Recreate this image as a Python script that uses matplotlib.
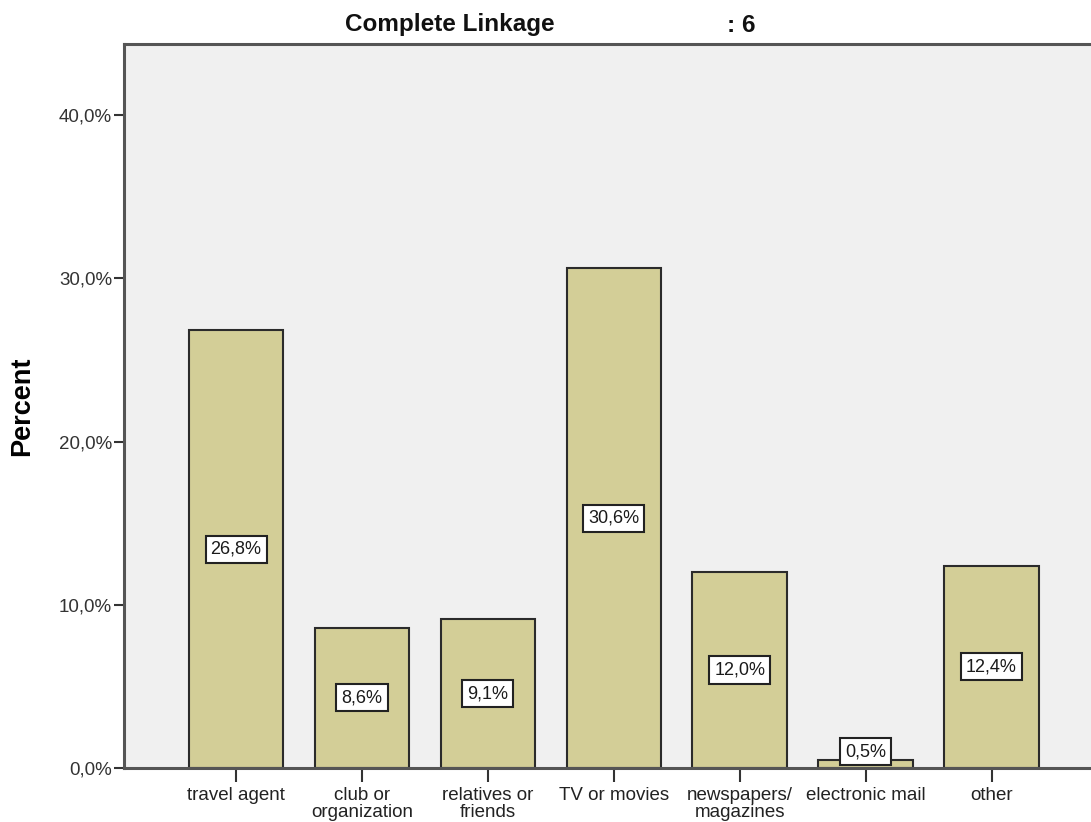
import matplotlib
matplotlib.use("Agg")
import matplotlib.pyplot as plt
from matplotlib.ticker import FuncFormatter

categories = ["travel agent", "club or\norganization", "relatives or\nfriends",
              "TV or movies", "newspapers/\nmagazines", "electronic mail", "other"]
percent = [26.8, 8.6, 9.1, 30.6, 12.0, 0.5, 12.4]
y_ticks = [0, 10, 20, 30, 40]

plt.rcParams['font.family'] = ['Liberation Sans', 'DejaVu Sans']

W, H = 1091, 822
fig = plt.figure(figsize=(W / 100, H / 100), dpi=100)
ax = fig.add_axes([124 / W, (H - 768) / H, 1 - 124 / W, (768 - 44) / H])
ax.set_facecolor("#f0f0f0")

x = list(range(len(categories)))
ax.bar(x, percent, width=0.75, color="#d3ce97", edgecolor="#2b2b2b",
       linewidth=1.5, zorder=2)

def fmt_pct(v):
    return f"{v:.1f}%".replace(".", ",")

for xi, v in zip(x, percent):
    ax.text(xi, max(v / 2, 1.0), fmt_pct(v), ha="center", va="center",
            fontsize=13, color="#1a1a1a", zorder=3,
            bbox=dict(boxstyle="square,pad=0.28", fc="white", ec="#222222", lw=1.5))

ax.set_xlim(-0.89, 6.79)
ax.set_ylim(0, 44.35)
ax.set_yticks(y_ticks)
ax.yaxis.set_major_formatter(FuncFormatter(lambda v, p: fmt_pct(v)))
ax.set_xticks(x)
ax.set_xticklabels(categories, fontsize=13.5, linespacing=1.0, color="#222222")
ax.tick_params(axis="y", labelsize=13.5, labelcolor="#333333", length=7.5,
               width=1.5, color="#333333", pad=1)
ax.tick_params(axis="x", length=10, width=1.5, color="#333333", pad=4)

for side in ("left", "bottom", "top"):
    ax.spines[side].set_color("#555555")
    ax.spines[side].set_linewidth(2.2)
ax.spines["right"].set_visible(False)

ax.set_ylabel("Percent", fontsize=19.5, fontweight="bold")
ax.yaxis.set_label_coords(-0.092, 0.50)

fig.text(345 / W, 1 - 25 / H, "Complete Linkage", fontsize=17.5, fontweight="bold",
         ha="left", va="center", color="#111111")
fig.text(727 / W, 1 - 25 / H, ": 6", fontsize=17.5, fontweight="bold",
         ha="left", va="center", color="#111111")

fig.savefig("out.png", dpi=100, facecolor="white")
